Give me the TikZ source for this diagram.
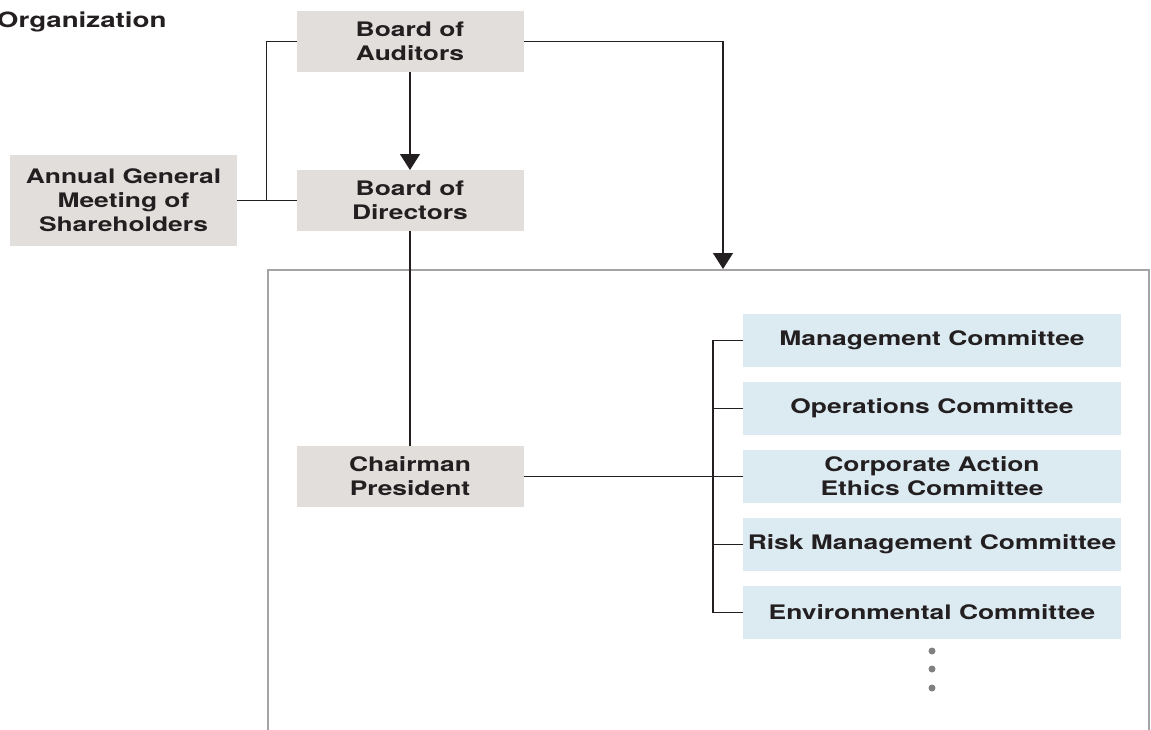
\documentclass[tikz,border=0pt]{standalone}
\usepackage{fontspec}
\setmainfont{TeX Gyre Heros}[FakeStretch=1.32]
\usetikzlibrary{positioning,arrows.meta,calc}
\definecolor{tgray}{HTML}{E2DEDC}
\definecolor{tblue}{HTML}{DCEAF2}
\definecolor{tink}{HTML}{231F20}
\definecolor{tframe}{HTML}{A4A4A6}
\definecolor{tdot}{HTML}{808080}

\begin{document}
\begin{tikzpicture}[x=1pt, y=-1pt, color=tink, line width=1.3pt,
  font=\fontsize{20}{24}\selectfont\bfseries,
  org/.style={fill=tgray, minimum width=227pt, minimum height=61pt, align=center, inner sep=0pt, outer sep=0pt},
  cmt/.style={fill=tblue, minimum width=378pt, minimum height=53pt, align=center, inner sep=0pt, outer sep=0pt},
  arr/.style={-{Triangle[width=20pt,length=16pt]}}]
\useasboundingbox (0,0) rectangle (1151,729);
\node[anchor=base west, font=\fontsize{21}{24}\selectfont\bfseries] (title) at (-7,27) {Organization};
% frame round the executive side
\draw[tframe, line width=2.2pt] (268,745) |- (1149,270) -- (1149,745);
\coordinate (ftop) at (723,269);
% boards
\node[org] (aud) at (410,41.5) {Board of\\Auditors};
\node[org, below=98pt of aud] (dir) {Board of\\Directors};
\node[org, minimum height=91pt] (agm) at (123.5,200.5) {Annual General\\Meeting of\\Shareholders};
\node[org, below=215pt of dir] (chair) {Chairman\\President};
% committees
\node[cmt] (mgmt) at (932,340.5) {Management Committee};
\node[cmt, below=15pt of mgmt] (ops) {Operations Committee};
\node[cmt, below=15pt of ops] (corp) {Corporate Action\\Ethics Committee};
\node[cmt, below=15pt of corp] (risk) {Risk Management Committee};
\node[cmt, below=15pt of risk] (env) {Environmental Committee};
\foreach \dy in {12,30,49} \fill[tdot] ($(env.south)+(0,\dy)$) circle (3.5pt);
% links
\draw[arr] (aud) -- (dir);
\draw (aud.west) -- ++(-30,0) |- (dir.west);
\draw (agm) -- (dir);
\draw[arr] (aud.east) -| (ftop);
\draw (dir) -- (chair);
\draw (chair) -- (corp);
\draw (mgmt.west) -- ++(-30,0) |- (env.west);
\draw (ops.west) -- ++(-30,0); \draw (risk.west) -- ++(-30,0);
\end{tikzpicture}
\end{document}
